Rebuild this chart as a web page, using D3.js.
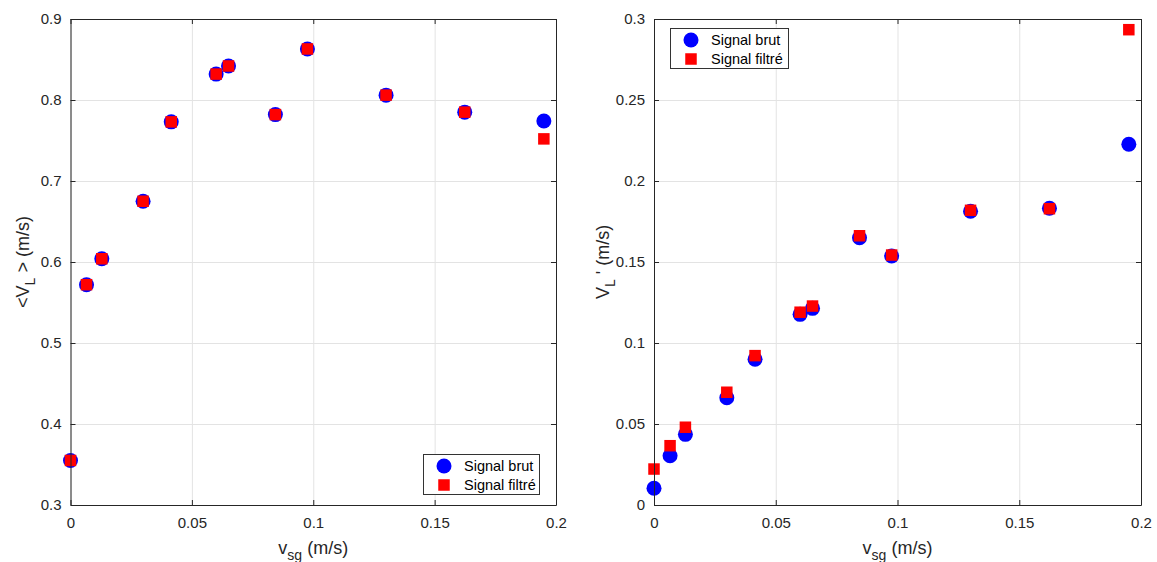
<!DOCTYPE html>
<html>
<head>
<meta charset="utf-8">
<script src="https://cdn.jsdelivr.net/npm/d3@7"></script>
<style>
  html, body { margin: 0; padding: 0; background: #fff; }
  svg { display: block; font-family: "Liberation Sans", Arial, Helvetica, sans-serif; }
</style>
</head>
<body>
<svg id="chart" width="1157" height="562"></svg>
<script>
// ---- Data ----
const vsg        = [0, 0.0066, 0.0129, 0.0299, 0.0415, 0.0600, 0.0651, 0.0844, 0.0976, 0.1300, 0.1624, 0.1950];
const meanBrut   = [0.355, 0.572, 0.604, 0.675, 0.773, 0.832, 0.842, 0.782, 0.863, 0.806, 0.785, 0.774];
const meanFiltre = [0.355, 0.572, 0.604, 0.675, 0.773, 0.832, 0.842, 0.782, 0.863, 0.806, 0.785, 0.752];
const rmsBrut    = [0.0103, 0.0304, 0.0436, 0.0662, 0.0900, 0.1177, 0.1214, 0.1650, 0.1537, 0.1813, 0.1832, 0.2227];
const rmsFiltre  = [0.0222, 0.0366, 0.0480, 0.0696, 0.0922, 0.1190, 0.1228, 0.1662, 0.1543, 0.1819, 0.1829, 0.2934];
const xTicks     = [0, 0.05, 0.1, 0.15, 0.2];
const yTicksLeft = [0.3, 0.4, 0.5, 0.6, 0.7, 0.8, 0.9];
const yTicksRight= [0, 0.05, 0.1, 0.15, 0.2, 0.25, 0.3];
const legendLabels = ["Signal brut", "Signal filtré"];

const svg = d3.select("#chart");
const axisColor = "#262626";
const gridColor = "#e3e3e3";
const fmt = d => String(+d.toFixed(3));

function panel(opts) {
  const g = svg.append("g");
  const x = d3.scaleLinear().domain([0, 0.2]).range([opts.left, opts.right]);
  const y = d3.scaleLinear().domain(opts.yDomain).range([opts.bottom, opts.top]);
  const W = opts.right - opts.left, H = opts.bottom - opts.top;

  g.append("rect").attr("x", opts.left).attr("y", opts.top).attr("width", W).attr("height", H).attr("fill", "#fff");

  // grid
  const gx = g.append("g").attr("transform", `translate(0,${opts.bottom})`)
    .call(d3.axisBottom(x).tickValues(xTicks).tickSize(-H).tickFormat(""));
  gx.selectAll("line").attr("stroke", gridColor);
  gx.select(".domain").remove();
  const gy = g.append("g").attr("transform", `translate(${opts.left},0)`)
    .call(d3.axisLeft(y).tickValues(opts.yTicks).tickSize(-W).tickFormat(""));
  gy.selectAll("line").attr("stroke", gridColor);
  gy.select(".domain").remove();

  // points
  const idx = d3.range(vsg.length);
  g.append("g").selectAll("circle").data(idx).join("circle")
    .attr("cx", i => x(vsg[i])).attr("cy", i => y(opts.brut[i])).attr("r", 7.5)
    .attr("fill", "#0000ff");
  const s = 11.5;
  g.append("g").selectAll("rect").data(idx).join("rect")
    .attr("x", i => x(vsg[i]) - s / 2).attr("y", i => y(opts.filtre[i]) - s / 2)
    .attr("width", s).attr("height", s).attr("fill", "#ff0000");

  // axes
  function style(sel) {
    sel.select(".domain").attr("stroke", axisColor);
    sel.selectAll(".tick line").attr("stroke", axisColor);
    sel.selectAll("text").attr("fill", axisColor).style("font-size", "15px")
      .style("font-family", '"Liberation Sans", Arial, Helvetica, sans-serif');
  }
  g.append("g").attr("transform", `translate(0,${opts.bottom})`)
    .call(d3.axisBottom(x).tickValues(xTicks).tickFormat(fmt).tickSizeInner(-5).tickSizeOuter(0).tickPadding(12))
    .call(style);
  g.append("g").attr("transform", `translate(0,${opts.top})`)
    .call(d3.axisTop(x).tickValues(xTicks).tickFormat("").tickSizeInner(-5).tickSizeOuter(0))
    .call(style);
  g.append("g").attr("transform", `translate(${opts.left},0)`)
    .call(d3.axisLeft(y).tickValues(opts.yTicks).tickFormat(fmt).tickSizeInner(-5).tickSizeOuter(0).tickPadding(9))
    .call(style);
  g.append("g").attr("transform", `translate(${opts.right},0)`)
    .call(d3.axisRight(y).tickValues(opts.yTicks).tickFormat("").tickSizeInner(-5).tickSizeOuter(0))
    .call(style);

  // x label
  const xl = g.append("text").attr("x", (opts.left + opts.right) / 2).attr("y", 554)
    .attr("text-anchor", "middle").attr("fill", axisColor).style("font-size", "18px");
  xl.append("tspan").text("v");
  xl.append("tspan").text("sg").attr("dy", 6).style("font-size", "14px");
  xl.append("tspan").text(" (m/s)").attr("dy", -6);

  // y label
  const yl = g.append("text")
    .attr("transform", `translate(${opts.yLabelX},${(opts.top + opts.bottom) / 2}) rotate(-90)`)
    .attr("text-anchor", "middle").attr("fill", axisColor).style("font-size", "18px");
  yl.append("tspan").text(opts.yLabel[0]);
  yl.append("tspan").text("L").attr("dy", 6).style("font-size", "14px");
  yl.append("tspan").text(opts.yLabel[1]).attr("dy", -6);

  // legend
  const L = opts.legend;
  const lg = g.append("g").attr("transform", `translate(${L.x},${L.y})`);
  lg.append("rect").attr("x", 0.5).attr("y", 0.5).attr("width", L.w).attr("height", 40)
    .attr("fill", "#fff").attr("stroke", "#333").attr("stroke-width", 1);
  lg.append("circle").attr("cx", 21).attr("cy", 12).attr("r", 7.5).attr("fill", "#0000ff");
  lg.append("rect").attr("x", 21 - s / 2).attr("y", 31 - s / 2).attr("width", s).attr("height", s).attr("fill", "#ff0000");
  lg.selectAll("text.lt").data(legendLabels).join("text").attr("class", "lt")
    .attr("x", 41).attr("y", (d, i) => 17 + i * 19)
    .attr("fill", "#000").style("font-size", "14.5px").text(d => d);
}

panel({
  left: 70.5, right: 556, top: 19, bottom: 505,
  yDomain: [0.3, 0.9], yTicks: yTicksLeft,
  brut: meanBrut, filtre: meanFiltre,
  yLabel: ["<V", " > (m/s)"], yLabelX: 29,
  legend: { x: 423, y: 454, w: 116 }
});
panel({
  left: 654, right: 1141, top: 19, bottom: 505,
  yDomain: [0, 0.3], yTicks: yTicksRight,
  brut: rmsBrut, filtre: rmsFiltre,
  yLabel: ["V", " ' (m/s)"], yLabelX: 609,
  legend: { x: 670, y: 28, w: 118 }
});
</script>
</body>
</html>
